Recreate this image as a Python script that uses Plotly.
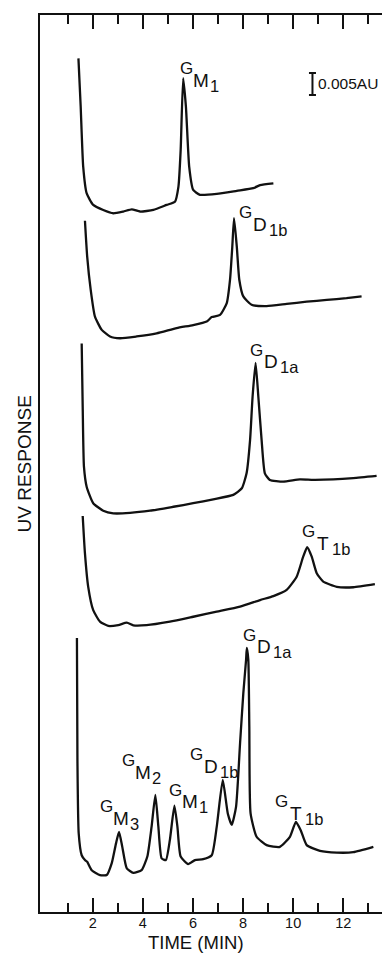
import plotly.graph_objects as go

# ---------------- data (time in min, response in mAU above each trace's own baseline) ----------------
t_gm1 = [1.43, 1.52, 1.62, 1.76, 2.02, 2.42, 2.82, 3.22, 3.56, 3.89, 4.42, 4.95, 5.28, 5.42, 5.51,
         5.61, 5.72, 5.85, 6.01, 6.28, 6.95, 7.75, 8.41, 8.68, 9.21]
r_gm1 = [35.2, 24.2, 10.6, 4.5, 1.9, 0.75, 0.0, 0.4, 0.9, 0.4, 0.75, 1.9, 2.6, 6.0, 14.4,
         30.7, 24.2, 10.6, 5.3, 4.2, 4.4, 5.1, 5.7, 6.4, 6.8]

t_gd1b = [1.69, 1.78, 1.92, 2.09, 2.36, 2.69, 3.09, 3.75, 4.55, 5.35, 6.01, 6.55, 6.75, 7.08, 7.35,
          7.48, 7.57, 7.64, 7.75, 7.85, 8.01, 8.34, 8.94, 9.74, 10.54, 11.34, 12.13, 12.73]
r_gd1b = [26.7, 18.5, 11.0, 4.9, 1.9, 0.4, 0.0, 0.4, 1.1, 2.3, 3.0, 3.8, 4.8, 5.3, 8.0,
          13.3, 20.8, 27.3, 20.8, 13.3, 9.5, 7.6, 7.3, 7.8, 8.3, 8.7, 9.1, 9.5]

t_gd1a = [1.56, 1.60, 1.65, 1.76, 2.02, 2.42, 2.82, 3.49, 4.29, 5.22, 6.01, 6.81, 7.61, 7.95, 8.14,
          8.28, 8.38, 8.50, 8.61, 8.74, 8.87, 9.07, 9.60, 10.27, 10.80, 11.60, 12.40, 13.33]
r_gd1a = [38.6, 24.2, 10.6, 6.0, 2.3, 0.6, 0.0, 0.1, 0.6, 1.5, 2.3, 3.2, 4.2, 5.7, 9.1,
          16.7, 26.5, 34.2, 26.5, 16.7, 9.1, 7.6, 7.2, 7.7, 7.6, 7.7, 8.0, 8.5]

t_gt1b = [1.60, 1.69, 1.82, 2.02, 2.29, 2.62, 3.02, 3.36, 3.62, 4.15, 5.08, 6.01, 6.95, 7.88, 8.68,
          9.21, 9.74, 10.14, 10.40, 10.56, 10.74, 10.94, 11.20, 11.74, 12.40, 13.26]
r_gt1b = [25.0, 16.5, 8.9, 3.6, 1.0, 0.0, 0.2, 0.75, 0.16, 0.2, 1.0, 2.1, 3.25, 4.4, 5.9,
          6.8, 8.2, 11.2, 15.75, 17.9, 15.75, 12.0, 10.1, 8.9, 8.8, 9.5]

t_mix = [1.37, 1.39, 1.44, 1.56, 1.69, 1.78, 1.96, 2.29, 2.56, 2.76, 2.93, 3.05, 3.18, 3.36, 3.62,
         3.95, 4.18, 4.35, 4.50, 4.62, 4.75, 4.92, 5.08, 5.26, 5.38, 5.51, 5.81, 6.08, 6.41, 6.75,
         6.95, 7.19, 7.39, 7.55, 7.72, 7.88, 8.01, 8.12, 8.15, 8.21, 8.25, 8.30, 8.54, 8.94, 9.47,
         9.87, 10.11, 10.30, 10.54, 11.07, 11.74, 12.40, 13.20]
r_mix = [53.9, 26.1, 9.5, 4.5, 3.4, 3.0, 1.1, 0.0, 0.0, 2.7, 7.2, 9.8, 6.4, 1.5, 0.5,
         1.1, 4.2, 11.0, 18.2, 11.0, 3.8, 3.4, 8.0, 15.75, 11.0, 4.2, 2.5, 3.4, 3.6, 4.5,
         11.0, 21.6, 14.0, 11.4, 15.5, 29.9, 41.3, 48.9, 51.6, 48.9, 33.7, 14.0, 8.7, 6.8, 6.4,
         8.7, 12.1, 10.2, 6.8, 5.5, 5.1, 5.2, 6.4]

trace_times = [t_gm1, t_gd1b, t_gd1a, t_gt1b, t_mix]
trace_resps = [r_gm1, r_gd1b, r_gd1a, r_gt1b, r_mix]
trace_offsets = [158.8, 130.4, 90.6, 65.0, 8.4]   # vertical stacking offsets (mAU)

# peak labels: G with subscript letter and sub-subscript index
label_trace = [0, 1, 2, 3, 4, 4, 4, 4, 4, 4]
label_time = [5.76, 8.08, 8.54, 10.63, 2.56, 3.42, 5.32, 6.15, 8.24, 9.54]
label_resp = [32.8, 28.5, 37.1, 21.4, 15.5, 26.0, 19.3, 27.3, 54.5, 16.7]
label_sub = ["M", "D", "D", "T", "M", "M", "M", "D", "D", "T"]
label_idx = ["1", "1b", "1a", "1b", "3", "2", "1", "1b", "1a", "1b"]

major_ticks = [2, 4, 6, 8, 10, 12]
minor_ticks = [1, 3, 5, 7, 9, 11, 13]
x_range = [-0.104, 13.545]
y_range = [0, 203.86]

scale_time = 10.77
scale_center = 188.2
scale_height = 5.0          # mAU = 0.005 AU
scale_text = "0.005AU"

FONT = "Liberation Sans, Arial, sans-serif"
INK = "#111111"

fig = go.Figure()
for t, r, off in zip(trace_times, trace_resps, trace_offsets):
    fig.add_trace(go.Scatter(x=t, y=[v + off for v in r], mode="lines",
                             line=dict(color=INK, width=2.3, shape="spline", smoothing=0.5),
                             hoverinfo="skip", showlegend=False))

# scale bar drawn as an "I" error bar
fig.add_trace(go.Scatter(x=[scale_time], y=[scale_center], mode="markers",
                         marker=dict(size=1, color="rgba(0,0,0,0)"),
                         error_y=dict(type="constant", value=scale_height / 2, color=INK,
                                      thickness=2, width=3.5),
                         hoverinfo="skip", showlegend=False))

ann = []
ann.append(dict(x=scale_time, y=scale_center, xref="x", yref="y", text=scale_text, showarrow=False,
                xanchor="left", yanchor="middle", xshift=4,
                font=dict(family=FONT, size=15.5, color=INK)))

for tr, t, r, s, i in zip(label_trace, label_time, label_resp, label_sub, label_idx):
    y = r + trace_offsets[tr]
    ann.append(dict(x=t, y=y, xref="x", yref="y", text="G", showarrow=False,
                    xanchor="center", yanchor="middle",
                    font=dict(family=FONT, size=17, color=INK)))
    ann.append(dict(x=t, y=y, xref="x", yref="y", text=s, showarrow=False,
                    xanchor="center", yanchor="middle", xshift=14.5, yshift=-11.5,
                    font=dict(family=FONT, size=19, color=INK)))
    ann.append(dict(x=t, y=y, xref="x", yref="y", text=i, showarrow=False,
                    xanchor="left", yanchor="middle", xshift=21.5, yshift=-17,
                    font=dict(family=FONT, size=16.5, color=INK)))

ann.append(dict(x=6.14, y=-0.034, xref="x", yref="paper", text="TIME (MIN)", showarrow=False,
                xanchor="center", yanchor="middle", font=dict(family=FONT, size=18.5, color=INK)))
ann.append(dict(x=-0.044, y=0.5, xref="paper", yref="paper", text="UV RESPONSE", showarrow=False,
                textangle=-90, xanchor="center", yanchor="middle",
                font=dict(family=FONT, size=19, color=INK)))

fig.update_layout(
    width=382, height=965, autosize=False,
    margin=dict(l=40, r=0, t=15, b=53, pad=0),
    paper_bgcolor="white", plot_bgcolor="white", showlegend=False,
    annotations=ann,
    xaxis=dict(range=x_range, tickvals=major_ticks, ticktext=[str(v) for v in major_ticks],
               ticks="inside", ticklen=14, tickwidth=1.5, tickcolor=INK,
               showline=True, linecolor=INK, linewidth=2, mirror="allticks",
               showgrid=False, zeroline=False, ticklabelstandoff=-3,
               tickfont=dict(family=FONT, size=14.5, color=INK),
               minor=dict(tickvals=minor_ticks, ticks="inside", ticklen=9, tickwidth=1.5,
                          tickcolor=INK, showgrid=False)),
    yaxis=dict(range=y_range, showticklabels=False, ticks="", showline=True, linecolor=INK,
               linewidth=1.5, showgrid=False, zeroline=False),
)

fig.write_html("out.html", config={"displayModeBar": False})
